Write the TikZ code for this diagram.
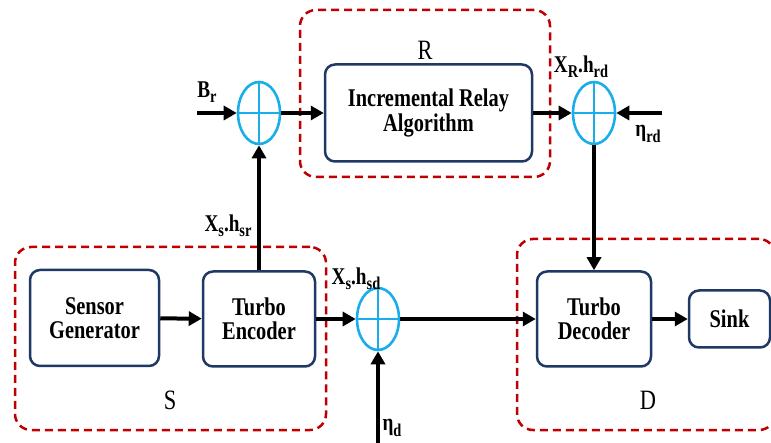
\documentclass[tikz,border=0pt]{standalone}
\usepackage{fontspec}
\setmainfont[FakeStretch=0.8]{Liberation Serif}
\usetikzlibrary{arrows.meta,positioning,shapes.geometric}
\definecolor{boxblue}{HTML}{1F3864}
\definecolor{sumcyan}{HTML}{1AADEB}
\definecolor{grpred}{HTML}{C00000}
\newcommand\lowsub[1]{\raisebox{-0.22em}{\fontsize{18}{18}\selectfont #1}}

\begin{document}
\begin{tikzpicture}[x=1pt, y=-1pt,
  box/.style={draw=boxblue, line width=2.5pt, rounded corners=10pt, align=center, inner sep=0pt,
    font=\fontsize{25.5}{24.5}\selectfont\bfseries},
  adder/.style={draw=sumcyan, line width=2.6pt, ellipse, minimum width=42pt, minimum height=62pt, inner sep=0pt,
    path picture={\draw[sumcyan, line width=2.2pt]
      (path picture bounding box.north) -- (path picture bounding box.south)
      (path picture bounding box.west) -- (path picture bounding box.east);}},
  group/.style={draw=grpred, line width=2.5pt, dash pattern=on 8pt off 5pt, rounded corners=16pt, inner sep=0pt},
  lbl/.style={font=\fontsize{24}{24}\selectfont\bfseries, inner sep=0pt},
  tag/.style={font=\fontsize{28}{28}\selectfont, inner sep=0pt},
  arrow/.style={-{Triangle[length=13pt,width=14pt]}, line width=4pt}
]
\useasboundingbox (0,0) rectangle (771,443);

% dashed groups
\node[group, minimum width=250pt, minimum height=167pt] (grpR) at (425,93.5) {};
\node[group, minimum width=311pt, minimum height=183pt] (grpS) at (170.5,338.5) {};
\node[group, minimum width=258pt, minimum height=191pt] (grpD) at (646,334.5) {};
\node[tag] (tagR) at (425,50) {R};
\node[tag] (tagS) at (170,400) {S};
\node[tag] (tagD) at (648,400) {D};

% blocks
\node[box, minimum width=129pt, minimum height=96pt] (gen) at (94.5,318) {Sensor\\Generator};
\node[box, minimum width=112pt, minimum height=95pt] (enc) at (259,319) {Turbo\\Encoder};
\node[box, minimum width=207pt, minimum height=97pt] (relay) at (428.5,113) {Incremental Relay\\Algorithm};
\node[box, minimum width=114pt, minimum height=95pt] (dec) at (594,319) {Turbo\\Decoder};
\node[box, minimum width=81pt, minimum height=57pt] (sink) at (729.5,319) {Sink};

% adders
\node[adder] (sumR) at (259,113) {};
\node[adder] (sumRD) at (594,113) {};
\node[adder] (sumD) at (378,319) {};

% free ends
\coordinate (brin) at (197,113);
\coordinate (etardin) at (662,113);
\coordinate (etadin) at (378,443);

% labels
\node[lbl] (lblBr) at (207,92) {B\lowsub{r}};
\node[lbl] (lblsr) at (228,226) {X\lowsub{s}.h\lowsub{sr}};
\node[lbl] (lblsd) at (356,279) {X\lowsub{s}.h\lowsub{sd}};
\node[lbl] (lblrd) at (581,67) {X\lowsub{R}.h\lowsub{rd}};
\node[lbl] (lbletard) at (648,134) {η\lowsub{rd}};
\node[lbl] (lbletad) at (392,428) {η\lowsub{d}};

% connectors
\draw[arrow] (gen) -- (enc);
\draw[arrow] (enc) -- (sumR);
\draw[arrow] (brin) -- (sumR);
\draw[arrow] (sumR) -- (relay);
\draw[arrow] (relay) -- (sumRD);
\draw[arrow] (etardin) -- (sumRD);
\draw[arrow] (sumRD) -- (dec);
\draw[arrow] (enc) -- (sumD);
\draw[arrow] (etadin) -- (sumD);
\draw[arrow] (sumD) -- (dec);
\draw[arrow] (dec) -- (sink);

\end{tikzpicture}
\end{document}
